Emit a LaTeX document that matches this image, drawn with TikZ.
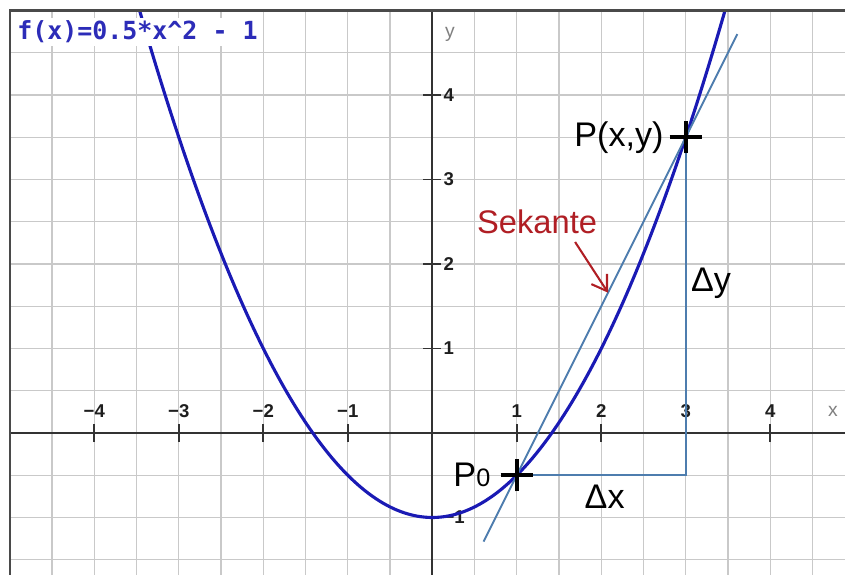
\documentclass[tikz,border=0pt]{standalone}
\usepackage{fontspec}
\setmainfont{Liberation Sans}
\newfontfamily\formfont{DejaVu Sans Mono}
\usepackage{tikz}
\usetikzlibrary{arrows.meta,positioning,calc}
\usepackage{xcolor}
\definecolor{gridc}{HTML}{C9C9C9}
\definecolor{axisc}{HTML}{333333}
\definecolor{tickc}{HTML}{1E1E1E}
\definecolor{framec}{HTML}{4A4A4A}
\definecolor{curve}{HTML}{1A1AB4}
\definecolor{steel}{HTML}{4E7DAE}
\definecolor{sekred}{HTML}{B01E24}
\definecolor{formc}{HTML}{2C2CB8}

\begin{document}
\begin{tikzpicture}[x=2cm,y=2cm,
   g/.style={draw=gridc,line width=0.9pt},
   ax/.style={draw=axisc,line width=1.2pt},
   tk/.style={font=\fontsize{12.5}{12.5}\selectfont\bfseries,text=tickc,inner sep=0pt},
   lb/.style={font=\fontsize{23}{23}\selectfont,inner sep=0pt},
   sec/.style={draw=steel,line width=1.3pt},
   mk/.style={draw=black,line width=2.6pt},
   arr/.style={-{Straight Barb[length=3.4mm,width=4.4mm]},line width=1.4pt,sekred}]
  \useasboundingbox (-5.116,-1.68) rectangle (4.884,5.124);
  % grid
  \foreach \i in {-4.5,-4,...,4.5} \draw[g] (\i,-1.68) -- (\i,5);
  \foreach \j in {-1.5,-1,...,4.5} \draw[g] (-5,\j) -- (4.884,\j);
  % axes and ticks
  \draw[ax] (-5,0) -- (4.884,0);
  \draw[ax] (0,-1.68) -- (0,5);
  \foreach \i/\t in {-4/−4,-3/−3,-2/−2,-1/−1,1/1,2/2,3/3,4/4} {
    \draw[ax] (\i,-0.107) -- (\i,0.107);
    \node[tk] (tx\i) at (\i,0.26) {\t};
  }
  \foreach \j/\t in {-1/−1,1/1,2/2,3/3,4/4} {
    \draw[ax] (-0.107,\j) -- (0.107,\j);
    \node[tk,anchor=west] (ty\j) at (0.13,\j) {\t};
  }
  \node[font=\fontsize{13}{13}\selectfont,text=gray] (xl) at (4.74,0.25) {x};
  \node[font=\fontsize{13}{13}\selectfont,text=gray] (yl) at (0.21,4.72) {y};
  % f(x)
  \begin{scope}
    \clip (-5,-1.68) rectangle (4.884,5);
    \draw[curve,line width=2.1pt] plot[domain=-3.6:3.6,samples=120,smooth] (\x,{0.5*\x*\x-1});
  \end{scope}
  \node[fill=white,anchor=west,inner sep=2pt,text=formc,
        font=\formfont\bfseries\fontsize{16.8}{16.8}\selectfont] (fx) at (-4.95,4.745)
        {f(x)=0.5*x\textasciicircum 2 - 1};
  \draw[draw=framec,line width=1.5pt] (-5,-1.68) -- (-5,5) -- (4.884,5);
  % secant and triangle
  \coordinate (p0) at (1,-0.5);
  \coordinate (p) at (3,3.5);
  \coordinate (q) at (3,-0.5);
  \coordinate (s1) at (0.607,-1.286);
  \coordinate (s2) at (3.61,4.72);
  \draw[sec] (s1) -- (s2);
  \draw[sec] (p0) -- (q) -- (p);
  \foreach \c in {p0,p} {
    \draw[mk] ($(\c)+(-0.19,0)$) -- ($(\c)+(0.19,0)$);
    \draw[mk] ($(\c)+(0,-0.19)$) -- ($(\c)+(0,0.19)$);
  }
  % labels
  \node[lb,left=6.2mm of p0] (lp0) {P{\fontsize{17}{17}\selectfont 0}};
  \node[lb,left=5.2mm of p] (lp) {P(x,y)};
  \node[lb] (dx) at (2.04,-0.75) {Δx};
  \node[lb,anchor=west] (dy) at (3.06,1.77) {Δy};
  \node[lb,font=\fontsize{22}{22}\selectfont,text=sekred] (sek) at (1.24,2.5) {Sekante};
  \coordinate (tail) at (1.69,2.26);
  \coordinate (hit) at (2.08,1.66);
  \draw[arr] (tail) -- (hit);
\end{tikzpicture}
\end{document}
